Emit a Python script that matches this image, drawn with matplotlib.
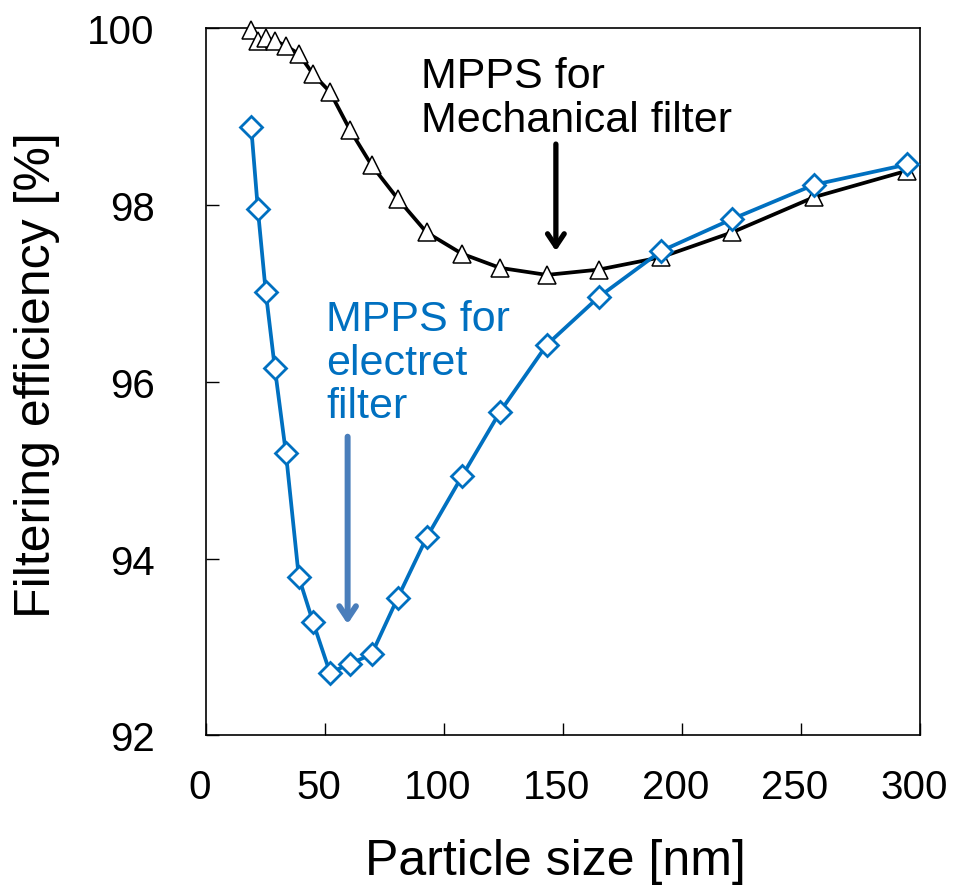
import matplotlib
matplotlib.use("Agg")
import matplotlib.pyplot as plt
from matplotlib.transforms import ScaledTranslation

plt.rcParams['font.family'] = ['Liberation Sans', 'DejaVu Sans']

# Particle diameters [nm] shared by both filter measurements
particle_size = [19.0, 21.8, 25.1, 28.9, 33.6, 39.0, 45.0, 52.1, 60.5, 69.6,
                 80.6, 92.7, 107.5, 123.5, 143.2, 165.0, 191.2, 220.9, 255.5, 294.7]

# Collection efficiency [%]
mechanical_eff = [99.98, 99.86, 99.89, 99.86, 99.80, 99.71, 99.48, 99.28, 98.85, 98.45,
                  98.07, 97.69, 97.45, 97.29, 97.21, 97.27, 97.41, 97.69, 98.09, 98.39]
electret_eff = [98.88, 97.95, 97.02, 96.16, 95.19, 93.79, 93.28, 92.71, 92.81, 92.92,
                93.56, 94.24, 94.93, 95.66, 96.42, 96.96, 97.48, 97.84, 98.23, 98.46]

x_ticks = [0, 50, 100, 150, 200, 250, 300]
y_ticks = [92, 94, 96, 98, 100]

BLUE = '#0070C0'
ARROW_BLUE = '#4A7EBB'

fig = plt.figure(figsize=(9.55, 8.95), dpi=100)
ax = fig.add_axes([0.2157, 0.1771, 0.7477, 0.7902])

ax.plot(particle_size, mechanical_eff, color='black', lw=2.7, marker='^',
        ms=12.5, mfc='white', mec='black', mew=1.1, zorder=3, clip_on=False)
ax.plot(particle_size, electret_eff, color=BLUE, lw=2.7, marker='D',
        ms=11.5, mfc='white', mec=BLUE, mew=2.0, zorder=4, clip_on=False)

ax.set_xlim(0, 300)
ax.set_ylim(92, 100)
ax.set_xticks(x_ticks)
ax.set_yticks(y_ticks)
ax.tick_params(axis='both', direction='in', length=9, width=1.0, labelsize=29,
               top=False, right=False)
ax.tick_params(axis='x', pad=23.5)
ax.tick_params(axis='y', pad=37)
for lbl in ax.get_xticklabels():
    lbl.set_transform(lbl.get_transform() + ScaledTranslation(-6 / 100, 0, fig.dpi_scale_trans))
for s in ax.spines.values():
    s.set_linewidth(1.2)

ax.set_xlabel('Particle size [nm]', fontsize=36, va='center')
ax.xaxis.set_label_coords(0.489, -0.178)
ax.set_ylabel('Filtering efficiency [%]', fontsize=36, va='center')
ax.yaxis.set_label_coords(-0.237, 0.511)

# Annotations marking the most penetrating particle size
ax.text(90.5, 98.84, 'MPPS for\nMechanical filter', fontsize=31, color='black',
        ha='left', va='baseline', linespacing=1.12)
ax.annotate('', xy=(147, 97.48), xytext=(147, 98.69),
            arrowprops=dict(arrowstyle='->,head_length=0.9,head_width=0.6',
                            color='black', lw=3.8, shrinkA=0, shrinkB=0))

ax.text(50.5, 95.60, 'MPPS for\nelectret\nfilter', fontsize=31, color=BLUE,
        ha='left', va='baseline', linespacing=1.12)
ax.annotate('', xy=(59.5, 93.26), xytext=(59.5, 95.38),
            arrowprops=dict(arrowstyle='->,head_length=0.9,head_width=0.6',
                            color=ARROW_BLUE, lw=4.3, shrinkA=0, shrinkB=0))

fig.savefig('out.png', dpi=100)
